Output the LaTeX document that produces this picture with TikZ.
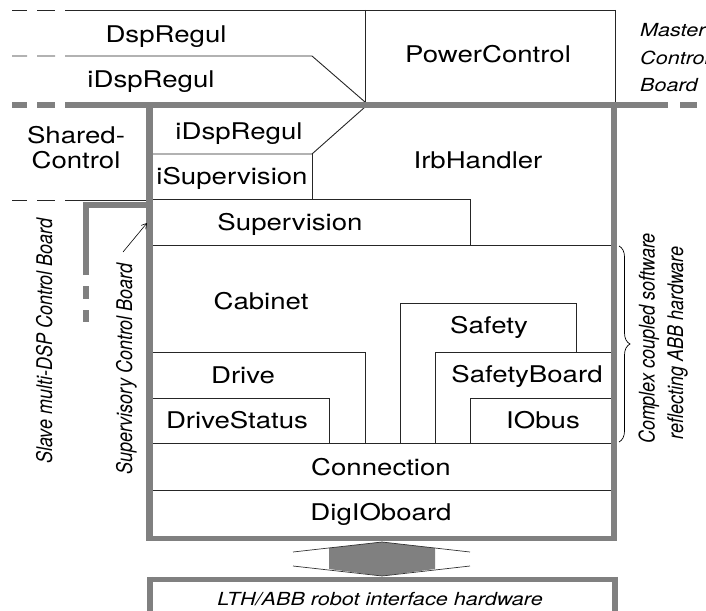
\documentclass[tikz,border=0pt]{standalone}
\usepackage{fontspec}
\setmainfont{TeX Gyre Heros}
\usetikzlibrary{arrows.meta,decorations.pathreplacing}
\definecolor{grayc}{RGB}{128,128,128}
\newcommand\hs[1]{\scalebox{1.2}[1]{#1}}
\newcommand\vsx[1]{\scalebox{1}[1.2]{#1}}
\tikzset{
  thin line/.style={line width=0.9pt, black!85},
  gh/.style={line width=5.4pt, grayc},
  gv/.style={line width=6.2pt, grayc},
  lbl/.style={inner sep=0pt, anchor=base, font=\fontsize{23}{25}\selectfont},
  sml/.style={inner sep=0pt, anchor=base, font=\fontsize{18}{20}\selectfont\itshape},
}
\begin{document}
\begin{tikzpicture}[x=1pt,y=-1pt]
\useasboundingbox (0,0) rectangle (706,610);
% ---- thin lines, top section
\draw[thin line] (12,10)--(27,10) (37,10)--(55,10) (65,10)--(615,10);
\draw[thin line] (12,56)--(27,56) (37,56)--(55,56) (65,56)--(312,56)--(365,102);
\draw[thin line] (365,10)--(365,102) (615,10)--(615,102);
\draw[thin line] (12,200)--(27,200) (37,200)--(55,200) (65,200)--(147,200);
% ---- inner boxes
\draw[thin line] (152,154)--(312,154)--(365,107);
\draw[thin line] (312,154)--(312,199);
\draw[thin line] (152,199)--(470,199)--(470,245);
\draw[thin line] (152,245)--(611,245);
\draw[thin line] (152,352)--(365,352)--(365,443);
\draw[thin line] (152,398)--(329,398)--(329,443);
\draw[thin line] (400,443)--(400,303)--(576,303)--(576,352);
\draw[thin line] (435,443)--(435,352)--(611,352);
\draw[thin line] (470,443)--(470,398)--(611,398);
\draw[thin line] (152,443)--(611,443);
\draw[thin line] (152,490)--(611,490);
% ---- gray board outlines
\draw[gh] (12,105)--(27,105) (37,105)--(55,105) (65,105)--(668,105) (680,105)--(697,105);
\draw[gv] (149.5,105)--(149.5,541.2);
\draw[gv] (614,105)--(614,541.2);
\draw[gh] (146.4,538.5)--(617.1,538.5);
\draw[gv] (86,275)--(86,202.3);
\draw[gh] (82.9,205)--(149.5,205);
\draw[gv] (86,286)--(86,299) (86,310)--(86,322);
\draw[gh] (147,579.5)--(618,579.5);
\draw[gv] (150,576.8)--(150,615) (615,576.8)--(615,615);
% ---- double arrow
\fill[grayc] (382,542)--(329,548)--(329,569)--(382,576)--(435,569)--(435,548)--cycle;
\draw[line width=0.7pt, black!80] (293,552)--(382,542)--(470,552);
\draw[line width=0.7pt, black!80] (293,566)--(382,576)--(470,566);
% ---- brace
\draw[line width=0.7pt, decorate, decoration={brace, amplitude=11pt}] (619,246)--(619,442);
% ---- labels
\node[lbl] (dsp) at (166,42) {\hs{DspRegul}};
\node[lbl] (idsp1) at (151,87) {\hs{iDspRegul}};
\node[lbl] (power) at (488,63) {\hs{PowerControl}};
\node[lbl] (shared) at (76,143) {\hs{Shared-}};
\node[lbl] (control) at (76,168) {\hs{Control}};
\node[lbl] (idsp2) at (239,139) {\hs{iDspRegul}};
\node[lbl] (isup) at (232,184) {\hs{iSupervision}};
\node[lbl] (irb) at (478,168) {\hs{IrbHandler}};
\node[lbl] (sup) at (290,230) {\hs{Supervision}};
\node[lbl] (cab) at (261,309) {\hs{Cabinet}};
\node[lbl] (drive) at (243,383) {\hs{Drive}};
\node[lbl] (dstat) at (237,428) {\hs{DriveStatus}};
\node[lbl] (safety) at (489,333) {\hs{Safety}};
\node[lbl] (sboard) at (527,382) {\hs{SafetyBoard}};
\node[lbl] (iobus) at (543,428) {\hs{IObus}};
\node[lbl] (conn) at (381,475) {\hs{Connection}};
\node[lbl] (digio) at (381,520) {\hs{DigIOboard}};
\node[sml] (lth) at (380,605) {\hs{LTH/ABB robot interface hardware}};
\node[sml, anchor=base west] (m1) at (640,37) {\hs{Master}};
\node[sml, anchor=base west] (m2) at (640,64) {\hs{Control}};
\node[sml, anchor=base west] (m3) at (640,91) {\hs{Board}};
\node[sml, rotate=90] (slave) at (52,341) {\vsx{Slave multi-DSP Control Board}};
\node[sml, rotate=90] (superv) at (132,369) {\vsx{Supervisory Control Board}};
\node[sml, rotate=90] (cx1) at (654.5,338.5) {\vsx{Complex coupled software}};
\node[sml, rotate=90] (cx2) at (683,343) {\vsx{reflecting ABB hardware}};
% ---- arrow to supervisory board
\coordinate (arrS) at (123,252);
\coordinate (arrE) at (147,223);
\draw[line width=0.6pt, -{Straight Barb[length=5pt,width=6pt]}] (arrS)--(arrE);
\end{tikzpicture}
\end{document}
